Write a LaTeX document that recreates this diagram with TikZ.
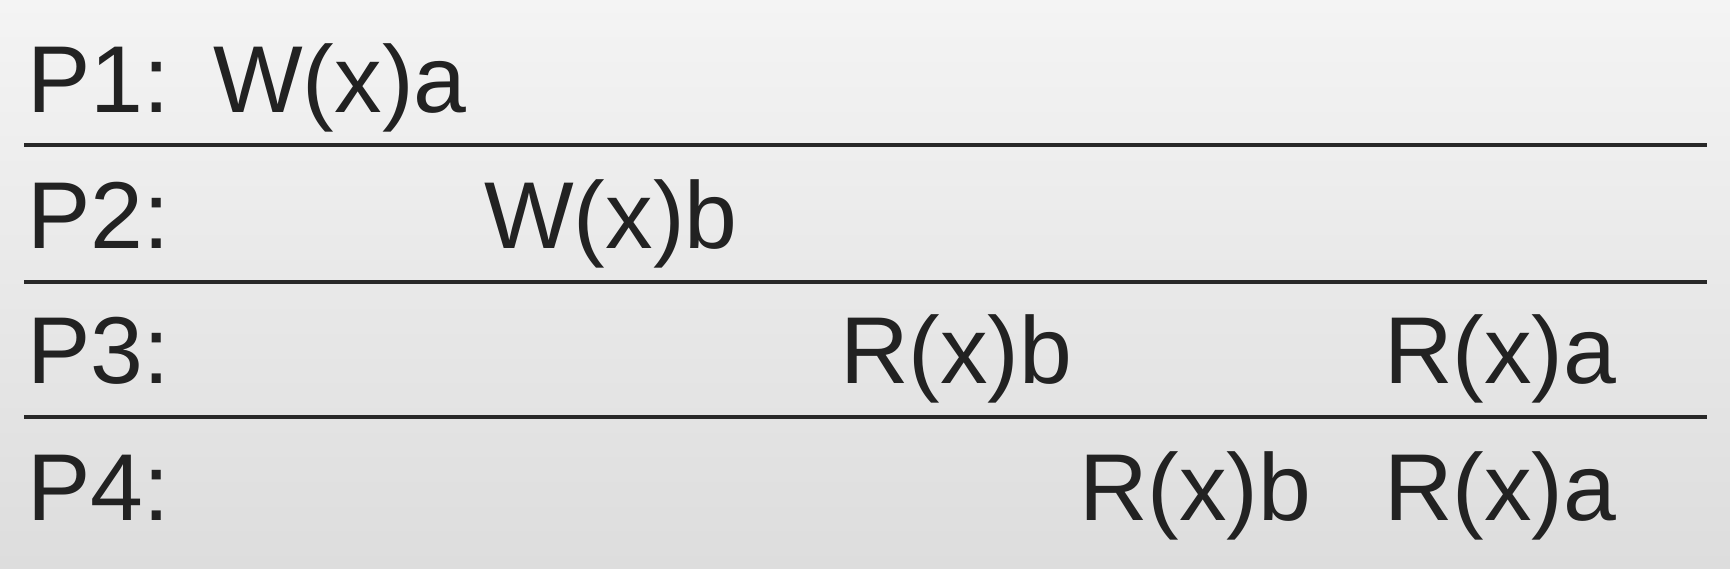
\documentclass[tikz,border=0pt]{standalone}
\usepackage{fontspec}
\setmainfont{Liberation Sans}
\definecolor{bgtop}{RGB}{244,244,244}
\definecolor{bgbot}{RGB}{221,221,221}
\definecolor{txt}{RGB}{34,34,34}
\definecolor{linec}{RGB}{40,40,40}
\tikzset{
  lbl/.style={anchor=base west, inner sep=0pt, text=txt, font=\fontsize{95}{100}\selectfont},
  sepline/.style={draw=linec, line width=4.5pt}
}
\begin{document}
\begin{tikzpicture}[x=1pt,y=-1pt]
\shade[top color=bgtop, bottom color=bgbot] (0,0) rectangle (1730,568);
\useasboundingbox (0,0) rectangle (1730,568);
% row labels
\node[lbl] (p1) at (27,112) {P1:};
\node[lbl] (p2) at (27,248) {P2:};
\node[lbl] (p3) at (27,383) {P3:};
\node[lbl] (p4) at (27,520) {P4:};
% operations
\node[lbl] (wa) at (213,112) {W(x)a};
\node[lbl] (wb) at (484,248) {W(x)b};
\node[lbl] (r3b) at (840,383) {R(x)b};
\node[lbl] (r3a) at (1384,383) {R(x)a};
\node[lbl] (r4b) at (1079,520) {R(x)b};
\node[lbl] (r4a) at (1384,520) {R(x)a};
% separators
\coordinate (l1a) at (24,145); \coordinate (l1b) at (1707,145);
\coordinate (l2a) at (24,282); \coordinate (l2b) at (1707,282);
\coordinate (l3a) at (24,417); \coordinate (l3b) at (1707,417);
\draw[sepline] (l1a) -- (l1b);
\draw[sepline] (l2a) -- (l2b);
\draw[sepline] (l3a) -- (l3b);
\end{tikzpicture}
\end{document}
